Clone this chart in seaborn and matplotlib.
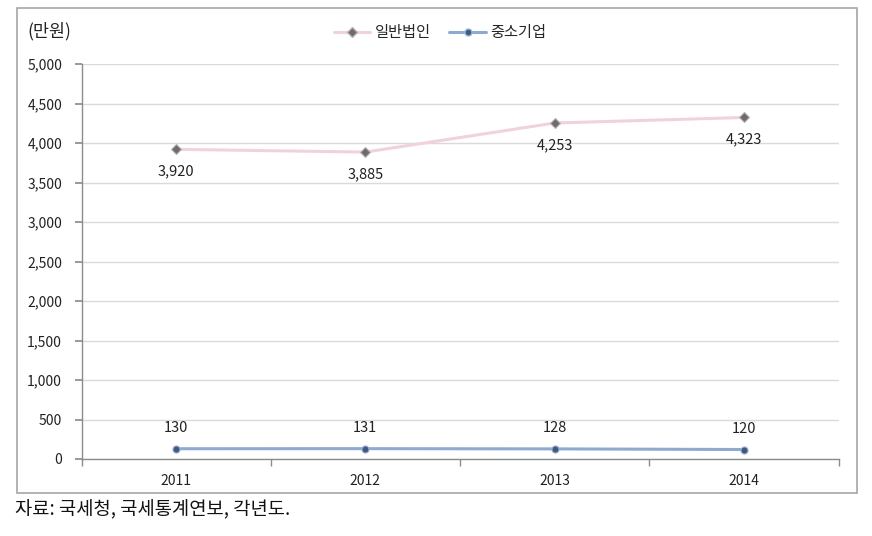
import matplotlib
matplotlib.use("Agg")
import matplotlib.pyplot as plt
import seaborn as sns
import pandas as pd
from matplotlib.patches import Rectangle
from matplotlib.lines import Line2D

years = [2011, 2012, 2013, 2014]
general = [3920, 3885, 4253, 4323]
sme = [130, 131, 128, 120]
series_names = ["일반법인", "중소기업"]
y_ticks = [0, 500, 1000, 1500, 2000, 2500, 3000, 3500, 4000, 4500, 5000]

sns.set_theme(style="white")
plt.rcParams['font.family'] = ['Noto Sans CJK KR', 'DejaVu Sans']

df = pd.DataFrame({
    "year": years * 2,
    "value": general + sme,
    "series": [series_names[0]] * 4 + [series_names[1]] * 4,
})

fig = plt.figure(figsize=(8.72, 5.36), dpi=100)
ax = fig.add_axes([81.5 / 872, 1 - 459 / 536, 757 / 872, 395 / 536])

pink = "#F0D3DA"
blue = "#8FAAD0"
palette = {series_names[0]: pink, series_names[1]: blue}
sns.lineplot(data=df, x="year", y="value", hue="series", palette=palette,
             linewidth=2.2, ax=ax, legend=False, zorder=2)
# markers
ax.scatter(years, general, marker="D", s=26, color="#6E6A6E", edgecolor="#B8B2B8",
           linewidth=0.8, zorder=3)
ax.scatter(years, sme, marker="o", s=26, color="#3F5A80", edgecolor="#9DB2CF",
           linewidth=0.8, zorder=3)

for x, v in zip(years, general):
    ax.annotate(f"{v:,}", (x, v), xytext=(0, -16), textcoords="offset points",
                ha="center", va="center", fontsize=10.5, color="#222222")
for x, v in zip(years, sme):
    ax.annotate(f"{v:,}", (x, v), xytext=(0, 15), textcoords="offset points",
                ha="center", va="center", fontsize=10.5, color="#222222")

ax.set_xlim(2010.5, 2014.5)
ax.set_ylim(0, 5000)
ax.set_yticks(y_ticks)
ax.set_yticklabels([f"{t:,}" for t in y_ticks], fontsize=10, color="#222222")
ax.set_xticks(years)
ax.set_xticklabels([str(y) for y in years], fontsize=10, color="#222222")
ax.set_xticks([2010.5, 2011.5, 2012.5, 2013.5, 2014.5], minor=True)
ax.tick_params(axis="x", which="major", length=0, pad=11)
ax.tick_params(axis="x", which="minor", length=5, color="#8C8C8C", direction="out", bottom=True)
ax.tick_params(axis="y", which="major", length=5, color="#8C8C8C", direction="out", left=True, pad=9)
ax.set_xlabel("")
ax.set_ylabel("")
ax.yaxis.grid(True, color="#DADADA", linewidth=1)
ax.set_axisbelow(True)
for side in ["top", "right"]:
    ax.spines[side].set_visible(False)
for side in ["left", "bottom"]:
    ax.spines[side].set_color("#8C8C8C")
    ax.spines[side].set_linewidth(1)

# unit label
fig.text(27 / 872, 1 - 31 / 536, "(만원)", fontsize=12.5, color="#222222", va="center", ha="left")

# legend
handles = [
    Line2D([], [], color=pink, linewidth=2.2, marker="D", markersize=5,
           markerfacecolor="#6E6A6E", markeredgecolor="#B8B2B8"),
    Line2D([], [], color=blue, linewidth=2.2, marker="o", markersize=5,
           markerfacecolor="#3F5A80", markeredgecolor="#9DB2CF"),
]
fig.legend(handles, series_names, loc="center", bbox_to_anchor=(440 / 872, 1 - 33 / 536),
           ncol=2, frameon=False, fontsize=11, handlelength=2.4, columnspacing=1.2,
           handletextpad=0.3)

# outer frame
fig.patches.append(Rectangle((17 / 872, 1 - 493 / 536), 840 / 872, 485 / 536,
                             transform=fig.transFigure, fill=False,
                             edgecolor="#A6A6A6", linewidth=1.2))

fig.text(15 / 872, 1 - 510 / 536, "자료: 국세청, 국세통계연보, 각년도.", fontsize=13.5,
         color="#111111", va="center", ha="left")

fig.savefig("out.png", dpi=100)
